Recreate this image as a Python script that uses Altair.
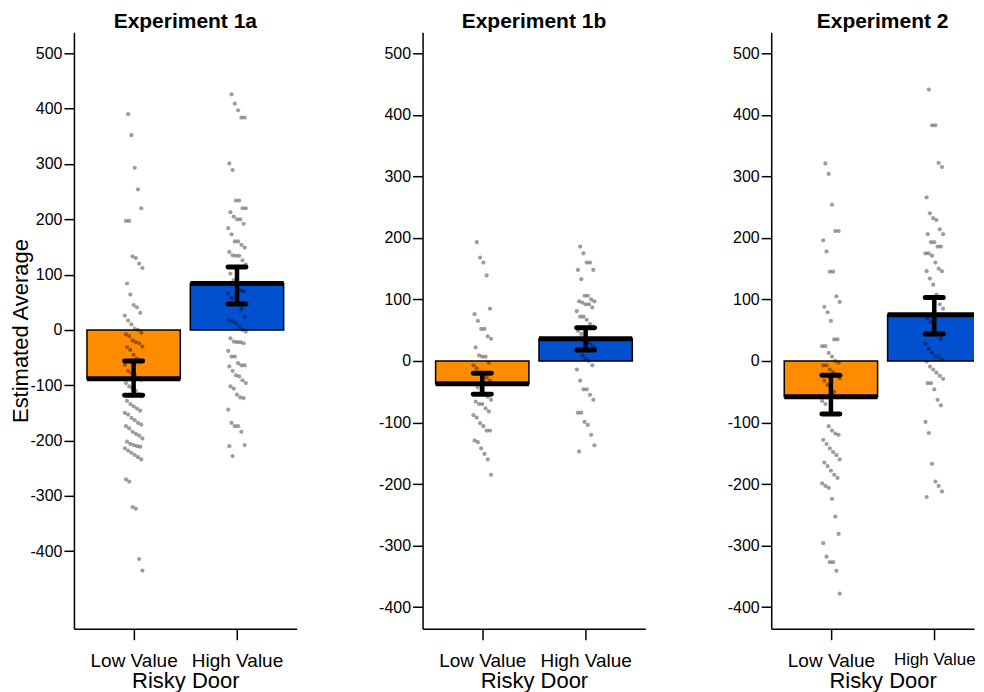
import altair as alt
import pandas as pd

experiments = ["Experiment 1a", "Experiment 1b", "Experiment 2"]
groups = ["Low Value", "High Value"]
bar_colors = ["#FF8C00", "#0050CF"]

mean_low = [-88, -37, -58]
mean_high = [84, 36, 75]
ci_low_lo = [-118, -54, -86]
ci_low_hi = [-56, -20, -23]
ci_high_lo = [47, 18, 44]
ci_high_hi = [114, 54, 103]

y_domains = [[-540, 538], [-435, 534], [-435, 534]]
y_ticks = [-400, -300, -200, -100, 0, 100, 200, 300, 400, 500]

e1a_low = [390, 352, 293, 254, 220, 197, 197, 133, 130, 120, 112, 84, 64, 45, 41, 31, 26,
           17, 10, 2, 0, -5, -8, -11, -19, -22, -24, -30, -31, -36, -45, -52, -57, -63, -74,
           -78, -81, -87, -90, -96, -102, -106, -110, -116, -120, -128, -134, -138, -142,
           -146, -150, -153, -159, -163, -168, -171, -174, -178, -184, -188, -191, -196,
           -202, -206, -208, -210, -211, -214, -218, -222, -226, -230, -234, -270, -274,
           -320, -323, -414, -435]
e1a_high = [426, 409, 397, 384, 384, 301, 289, 234, 234, 220, 220, 213, 205, 200, 200, 192,
            184, 173, 160, 160, 154, 149, 141, 135, 134, 134, 126, 118, 102, 90, 80, 72, 70,
            66, 58, 48, 46, 38, 24, 18, 16, 12, 6, 0, -3, -15, -21, -22, -22, -24, -38, -48,
            -48, -60, -64, -64, -66, -74, -82, -84, -91, -96, -102, -106, -117, -122, -123,
            -144, -168, -174, -174, -184, -208, -210, -228]
e1b_low = [193, 168, 160, 139, 85, 76, 65, 52, 52, 40, 36, 22, 9, 7, 7, -3, -7, -12, -19,
           -24, -27, -32, -38, -43, -48, -54, -58, -63, -66, -70, -70, -77, -82, -88, -92,
           -101, -106, -113, -113, -129, -132, -142, -151, -160, -185]
e1b_high = [186, 175, 160, 160, 148, 148, 133, 106, 106, 100, 97, 97, 95, 92, 92, 87, 81,
            72, 72, 67, 60, 56, 49, 44, 38, 30, 27, 22, 17, 9, 4, 0, -7, -14, -32, -46, -46,
            -55, -63, -84, -84, -99, -104, -120, -137, -147]
e2_low = [321, 304, 254, 211, 211, 196, 178, 145, 145, 105, 96, 88, 79, 65, 35, 35, 24, 24,
          13, 7, 0, -3, -7, -7, -14, -18, -22, -28, -32, -39, -45, -50, -59, -65, -70, -106,
          -113, -118, -120, -128, -135, -142, -148, -153, -160, -165, -171, -178, -185, -190,
          -199, -203, -206, -224, -253, -281, -296, -318, -327, -327, -341, -378]
e2_high = [441, 383, 383, 322, 315, 266, 240, 232, 229, 214, 206, 206, 193, 193, 186, 186,
           175, 175, 171, 160, 150, 146, 146, 134, 124, 108, 92, 85, 70, 63, 52, 45, 36, 28,
           20, 13, 7, 7, 2, -1, -9, -14, -19, -24, -29, -36, -36, -46, -63, -72, -99, -117,
           -167, -196, -203, -212, -221]

point_sets = [(e1a_low, e1a_high), (e1b_low, e1b_high), (e2_low, e2_high)]

FONT = "Liberation Sans"
FULL_W = 223
WIDTHS = [223, 223, 203]
H = 597
PI, PO = 0.097, 0.126
STEP = FULL_W / (2 - PI + 2 * PO)   # pixels per category step
C0 = PO + (1 - PI) / 2              # first category centre, in steps
HB = (1 - PI) / 2                   # half bar width, in steps
CAP = 9 / STEP                      # half cap length, in steps
JIT = 0.085

GROUP_IDX = "indexof(['" + "','".join(groups) + "'], datum.group)"
LABEL_EXPR = "datum.value === 0 ? '" + groups[0] + "' : '" + groups[1] + "'"


def panel(i):
    W = WIDTHS[i]
    summ = pd.DataFrame({
        "group": groups,
        "mean": [mean_low[i], mean_high[i]],
        "lo": [ci_low_lo[i], ci_high_lo[i]],
        "hi": [ci_low_hi[i], ci_high_hi[i]],
    })
    lows, highs = point_sets[i]
    pts = pd.DataFrame({
        "group": ["Low Value"] * len(lows) + ["High Value"] * len(highs),
        "value": lows + highs,
    })
    xs = alt.Scale(domain=[-C0, W / STEP - C0], nice=False, zero=False)
    if W < FULL_W:
        label_size = {"condition": {"test": "datum.value === 1", "value": 17}, "value": 19}
    else:
        label_size = 19
    xaxis = alt.Axis(values=[0, 1], labelExpr=LABEL_EXPR, title="Risky Door", labelAngle=0,
                     labelFontSize=label_size, labelPadding=12, tickSize=11,
                     titleFontSize=22, titlePadding=0, titleFontWeight="normal",
                     labelFlush=False, labelOverlap=False, titleX=FULL_W / 2,
                     titleAlign="center")
    ys = alt.Scale(domain=y_domains[i], nice=False, zero=False)
    if i == 0:
        yaxis = alt.Axis(values=y_ticks, title="Estimated Average", titleFontSize=22,
                         titleFontWeight="normal", titlePadding=-3, labelFontSize=16,
                         labelPadding=2, tickSize=10, labelExpr="'' + datum.value")
    else:
        yaxis = alt.Axis(values=y_ticks, title=None, labelFontSize=16,
                         labelPadding=2, tickSize=10, labelExpr="'' + datum.value")

    base = alt.Chart(summ).transform_calculate(gi=GROUP_IDX).transform_calculate(
        xl=f"datum.gi - {HB}", xr=f"datum.gi + {HB}",
        cl=f"datum.gi - {CAP}", cr=f"datum.gi + {CAP}",
    )
    bars = base.mark_rect(stroke="black", strokeWidth=1.5, clip=True).encode(
        x=alt.X("xl:Q", scale=xs, axis=xaxis),
        x2="xr:Q",
        y=alt.Y("mean:Q", scale=ys, axis=yaxis),
        y2=alt.datum(0),
        color=alt.Color("group:N", scale=alt.Scale(domain=groups, range=bar_colors),
                        legend=None),
    )
    dots = alt.Chart(pts).transform_window(
        rn="row_number()", groupby=["group"]
    ).transform_calculate(
        xp=f"{GROUP_IDX} + {JIT} * ((((datum.rn * 37) % 17) / 8) - 1)"
    ).mark_circle(size=18, color="black", opacity=0.38).encode(
        x="xp:Q", y="value:Q",
    )
    meanline = base.mark_rule(strokeWidth=5, color="black", clip=True).encode(
        x="xl:Q", x2="xr:Q", y="mean:Q")
    err = base.mark_rule(strokeWidth=4.5, color="black").encode(
        x="gi:Q", y="lo:Q", y2="hi:Q")
    cap_lo = base.mark_rule(strokeWidth=5, color="black", strokeCap="round").encode(
        x="cl:Q", x2="cr:Q", y="lo:Q")
    cap_hi = base.mark_rule(strokeWidth=5, color="black", strokeCap="round").encode(
        x="cl:Q", x2="cr:Q", y="hi:Q")

    return alt.layer(bars, dots, meanline, err, cap_lo, cap_hi).properties(
        width=W, height=H,
        title=alt.TitleParams(experiments[i], fontSize=21, fontWeight="bold", font=FONT,
                              color="black", anchor="middle", offset=0,
                              dx=(FULL_W - W) / 2),
    )


chart = alt.hconcat(panel(0), panel(1), panel(2), spacing=126, bounds="flush").resolve_scale(
    y="independent", x="independent", color="independent"
).properties(
    padding={"left": 1, "top": 3, "right": 0, "bottom": 0}
).configure_view(stroke=None).configure_axis(
    grid=False, domainColor="black", domainWidth=1.5, tickColor="black", tickWidth=1.5,
    labelColor="black", titleColor="black", labelFont=FONT, titleFont=FONT,
)

chart.save("out.html", embed_options={"renderer": "svg", "actions": False})
